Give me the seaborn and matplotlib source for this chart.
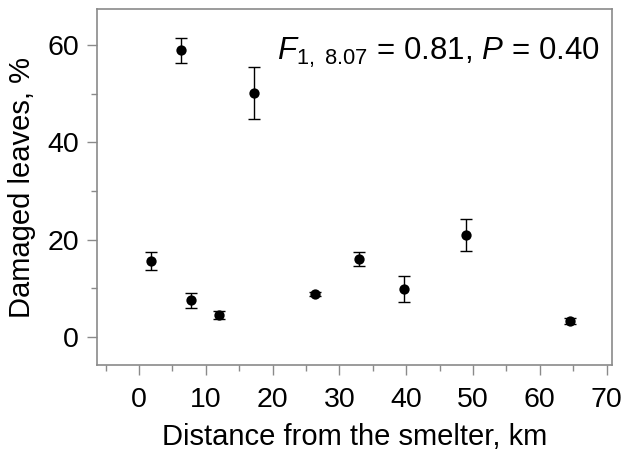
import numpy as np
import pandas as pd
import matplotlib
matplotlib.use("Agg")
import matplotlib.pyplot as plt
import seaborn as sns
from matplotlib.ticker import MultipleLocator

# values
distance_km = [1.8, 6.3, 7.8, 12.0, 17.2, 26.3, 32.9, 39.7, 49.0, 64.5]
damaged_pct = [15.6, 58.9, 7.5, 4.5, 50.1, 8.8, 16.0, 9.8, 21.0, 3.3]
se_pct = [1.8, 2.5, 1.5, 0.8, 5.4, 0.4, 1.5, 2.7, 3.3, 0.6]

df = pd.DataFrame({"dist": distance_km, "dmg": damaged_pct, "se": se_pct})

sns.set_style("ticks")
plt.rcParams["font.family"] = ["Liberation Sans", "DejaVu Sans"]
plt.rcParams["mathtext.fontset"] = "custom"
plt.rcParams["mathtext.it"] = "Liberation Sans:italic"
plt.rcParams["mathtext.rm"] = "Liberation Sans"
plt.rcParams["text.color"] = "black"
plt.rcParams["axes.labelcolor"] = "black"
plt.rcParams["xtick.labelcolor"] = "black"
plt.rcParams["ytick.labelcolor"] = "black"

fig, ax = plt.subplots(figsize=(6.25, 4.59), dpi=100)
fig.subplots_adjust(left=0.155, right=0.979, top=0.980, bottom=0.205)

ax.errorbar(df["dist"], df["dmg"], yerr=df["se"], fmt="none",
            ecolor="black", elinewidth=1.0, capsize=4, capthick=1.0, zorder=2)
sns.scatterplot(data=df, x="dist", y="dmg", ax=ax, color="black",
                s=55, edgecolor="black", linewidth=0, zorder=3)

ax.set_xlim(-6.3, 70.8)
ax.set_ylim(-5.8, 67.4)
ax.xaxis.set_major_locator(MultipleLocator(10))
ax.xaxis.set_minor_locator(MultipleLocator(5))
ax.yaxis.set_major_locator(MultipleLocator(20))
ax.yaxis.set_minor_locator(MultipleLocator(10))

spine_col = "#8a8a8a"
for sp in ax.spines.values():
    sp.set_color(spine_col)
    sp.set_linewidth(1.2)
ax.tick_params(which="major", length=7, width=1, color=spine_col,
               labelsize=20.5, pad=6)
ax.tick_params(axis="x", which="major", pad=9)
ax.tick_params(which="minor", length=4, width=1, color=spine_col)

ax.set_xlabel("Distance from the smelter, km", fontsize=21, labelpad=7)
ax.set_ylabel("Damaged leaves, %", fontsize=21, labelpad=8)

ax.text(0.977, 0.925,
        r"$F$$_{\mathregular{1,\ 8.07}}$ = 0.81, $P$ = 0.40",
        transform=ax.transAxes, ha="right", va="top", fontsize=22.5)

fig.savefig("out.png", dpi=100)
